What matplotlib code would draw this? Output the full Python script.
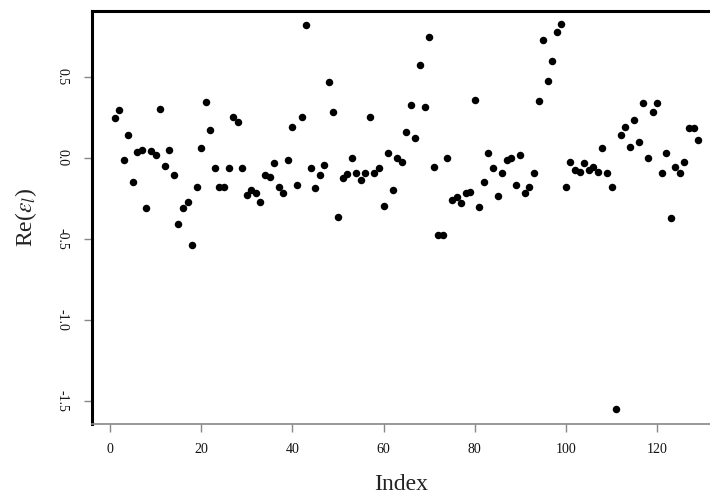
#Re(eps)の散布図
import numpy as np
import matplotlib
matplotlib.use('Agg')
import matplotlib.pyplot as plt

# データ
index = np.arange(1, 130)
re_eps = [0.245, 0.296, -0.012, 0.142, -0.146, 0.039, 0.049, -0.31, 0.043, 0.019,
          0.305, -0.049, 0.049, -0.105, -0.41, -0.31, -0.27, -0.537, -0.177, 0.06,
          0.347, 0.173, -0.064, -0.177, -0.177, -0.064, 0.255, 0.224, -0.064, -0.228,
          -0.198, -0.218, -0.27, -0.105, -0.115, -0.033, -0.177, -0.218, -0.012, 0.193,
          -0.167, 0.255, 0.82, -0.064, -0.187, -0.105, -0.043, 0.471, 0.286, -0.362,
          -0.125, -0.10, -0.002, -0.095, -0.136, -0.095, 0.255, -0.095, -0.064, -0.296,
          0.029, -0.198, -0.002, -0.023, 0.163, 0.327, 0.122, 0.574, 0.317, 0.749,
          -0.053, -0.475, -0.475, -0.002, -0.26, -0.239, -0.28, -0.218, -0.208, 0.355,
          -0.30, -0.146, 0.029, -0.064, -0.235, -0.095, -0.012, -0.002, -0.167, 0.019,
          -0.218, -0.177, -0.095, 0.352, 0.728, 0.475, 0.60, 0.78, 0.827, -0.177,
          -0.023, -0.074, -0.085, -0.033, -0.074, -0.053, -0.085, 0.06, -0.095, -0.177,
          -1.55, 0.142, 0.193, 0.07, 0.235, 0.101, 0.338, -0.002, 0.286, 0.338,
          -0.095, 0.033, -0.372, -0.053, -0.095, -0.023, 0.183, 0.183, 0.111]
x_ticks = [0, 20, 40, 60, 80, 100, 120]
y_ticks = [-1.5, -1.0, -0.5, 0.0, 0.5]

plt.rcParams['font.family'] = ['Liberation Serif', 'DejaVu Serif']
plt.rcParams['mathtext.fontset'] = 'stix'

fig = plt.figure(figsize=(7.1, 4.96), dpi=100)
ax = fig.add_axes([0.1296, 0.1452, 0.8704, 0.8326])

ax.plot(index, re_eps, 'o', color='black', markersize=5.4, markeredgewidth=0)

ax.set_xlim(-3.95, 131.6)
ax.set_ylim(-1.642, 0.907)
ax.set_xticks(x_ticks)
ax.set_yticks(y_ticks)
ax.set_yticklabels(['%.1f' % v for v in y_ticks], rotation=-90, va='center')

# Rっぽい軸
ax.spines['right'].set_visible(False)
ax.spines['top'].set_linewidth(2.2)
ax.spines['left'].set_linewidth(2.2)
ax.spines['bottom'].set_color('#888888')
ax.spines['bottom'].set_linewidth(1.2)
ax.tick_params(axis='both', color='#888888', length=6, width=1, labelsize=10, labelcolor='#111111')
ax.tick_params(axis='x', pad=8)
ax.tick_params(axis='y', pad=11)

ax.set_xlabel('Index', fontsize=17, color='#222222', labelpad=13)
ax.set_ylabel(r'Re($\varepsilon_l$)', fontsize=17, color='#222222', labelpad=12)

plt.savefig('out.png', dpi=100)
plt.close()
